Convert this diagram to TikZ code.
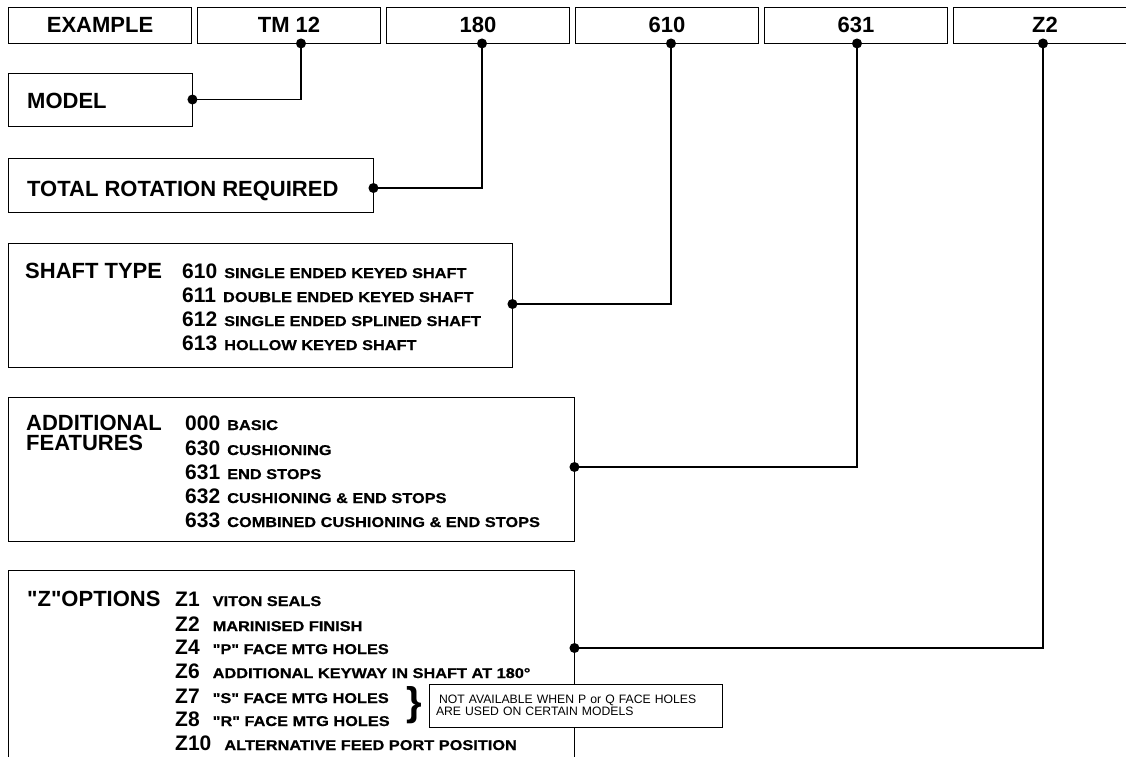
\documentclass[tikz,border=0pt]{standalone}
\usepackage{fontspec}
\setmainfont{Liberation Sans}
\newfontfamily\descfont[FakeStretch=1.15, FakeBold=0.6]{Liberation Sans Bold}
\usetikzlibrary{decorations.pathreplacing}
\newcommand{\optline}[3][7pt]{\fontsize{21}{25}\selectfont #2\hspace{#1}{\descfont\fontsize{14.2}{16}\selectfont #3}}

\begin{document}
\begin{tikzpicture}[x=1pt, y=-1pt,
	every node/.style={text=black, inner sep=0pt, font=\bfseries\fontsize{22}{26}\selectfont},
	codebox/.style={draw, line width=0.9pt, minimum width=183pt, minimum height=36pt},
	panel/.style={draw, line width=0.9pt},
	optrow/.style={anchor=base west},
	joint/.style={circle, fill=black, minimum size=10pt},
	wire/.style={line width=1.1pt}]
	\useasboundingbox (0,0) rectangle (1126,756);
	% top row
	\node[codebox] (ex) at (100,25) {EXAMPLE};
	\node[codebox] (tm) at (289,25) {TM 12};
	\node[codebox] (rot) at (478,25) {180};
	\node[codebox] (sft) at (667,25) {610};
	\node[codebox] (feat) at (856,25) {631};
	\node[codebox] (zz) at (1045,25) {Z2};
	% left panels
	\node[panel, minimum width=184pt, minimum height=53pt] (model) at (100,99.5) {};
	\node[optrow] (modellbl) at (27,108) {MODEL};
	\node[panel, minimum width=365pt, minimum height=54pt] (total) at (190.5,185) {};
	\node[optrow] (totallbl) at (27,196) {TOTAL ROTATION REQUIRED};
	\node[panel, minimum width=504pt, minimum height=124pt] (shaft) at (260,305) {};
	\node[optrow] (shaftlbl) at (25,278) {SHAFT TYPE};
	\node[optrow] (s610) at (182,278) {\optline{610}{SINGLE ENDED KEYED SHAFT}};
	\node[optrow] (s611) at (182,302) {\optline{611}{DOUBLE ENDED KEYED SHAFT}};
	\node[optrow] (s612) at (182,326) {\optline{612}{SINGLE ENDED SPLINED SHAFT}};
	\node[optrow] (s613) at (182,350) {\optline{613}{HOLLOW KEYED SHAFT}};
	\node[panel, minimum width=566pt, minimum height=144pt] (addf) at (291,469) {};
	\node[optrow] (addlbl) at (26,430) {ADDITIONAL};
	\node[optrow] (featlbl) at (26,450) {FEATURES};
	\node[optrow] (a000) at (185,430) {\optline{000}{BASIC}};
	\node[optrow] (a630) at (185,455) {\optline{630}{CUSHIONING}};
	\node[optrow] (a631) at (185,479) {\optline{631}{END STOPS}};
	\node[optrow] (a632) at (185,503) {\optline{632}{CUSHIONING \& END STOPS}};
	\node[optrow] (a633) at (185,527) {\optline{633}{COMBINED CUSHIONING \& END STOPS}};
	\node[panel, minimum width=566pt, minimum height=200pt] (zopt) at (291,670) {};
	\node[optrow] (zlbl) at (27,606) {\textquotedbl Z\textquotedbl OPTIONS};
	\node[optrow] (z1) at (175,606) {\optline[13pt]{Z1}{VITON SEALS}};
	\node[optrow] (z2) at (175,631) {\optline[13pt]{Z2}{MARINISED FINISH}};
	\node[optrow] (z4) at (175,654) {\optline[13pt]{Z4}{"P" FACE MTG HOLES}};
	\node[optrow] (z6) at (175,678) {\optline[13pt]{Z6}{ADDITIONAL KEYWAY IN SHAFT AT 180°}};
	\node[optrow] (z7) at (175,703) {\optline[13pt]{Z7}{"S" FACE MTG HOLES}};
	\node[optrow] (z8) at (175,726) {\optline[13pt]{Z8}{"R" FACE MTG HOLES}};
	\node[optrow] (z10) at (175,750) {\optline[13pt]{Z10}{ALTERNATIVE FEED PORT POSITION}};
	\node (brace) at (414,705) {\fontsize{40}{40}\selectfont\}};
	% connectors
	\draw[wire] ([xshift=12pt]tm.south) node[joint]{} |- (model.east) node[joint]{};
	\draw[wire] ([xshift=4pt]rot.south) node[joint]{} |- ([yshift=-3pt]total.east) node[joint]{};
	\draw[wire] ([xshift=4pt]sft.south) node[joint]{} |- ([yshift=1pt]shaft.east) node[joint]{};
	\draw[wire] ([xshift=1pt]feat.south) node[joint]{} |- ([yshift=2pt]addf.east) node[joint]{};
	\draw[wire] ([xshift=-2pt]zz.south) node[joint]{} |- ([yshift=22pt]zopt.east) node[joint]{};
	% note over the panel edge
	\node[panel, fill=white, minimum width=293pt, minimum height=43pt, text width=279pt, align=left,
		font=\mdseries\fontsize{12.2}{10}\selectfont] (note) at (575.5,705.5)
		{\hspace*{3pt}NOT AVAILABLE WHEN P or Q FACE HOLES\\ARE USED ON CERTAIN MODELS};
\end{tikzpicture}
\end{document}
